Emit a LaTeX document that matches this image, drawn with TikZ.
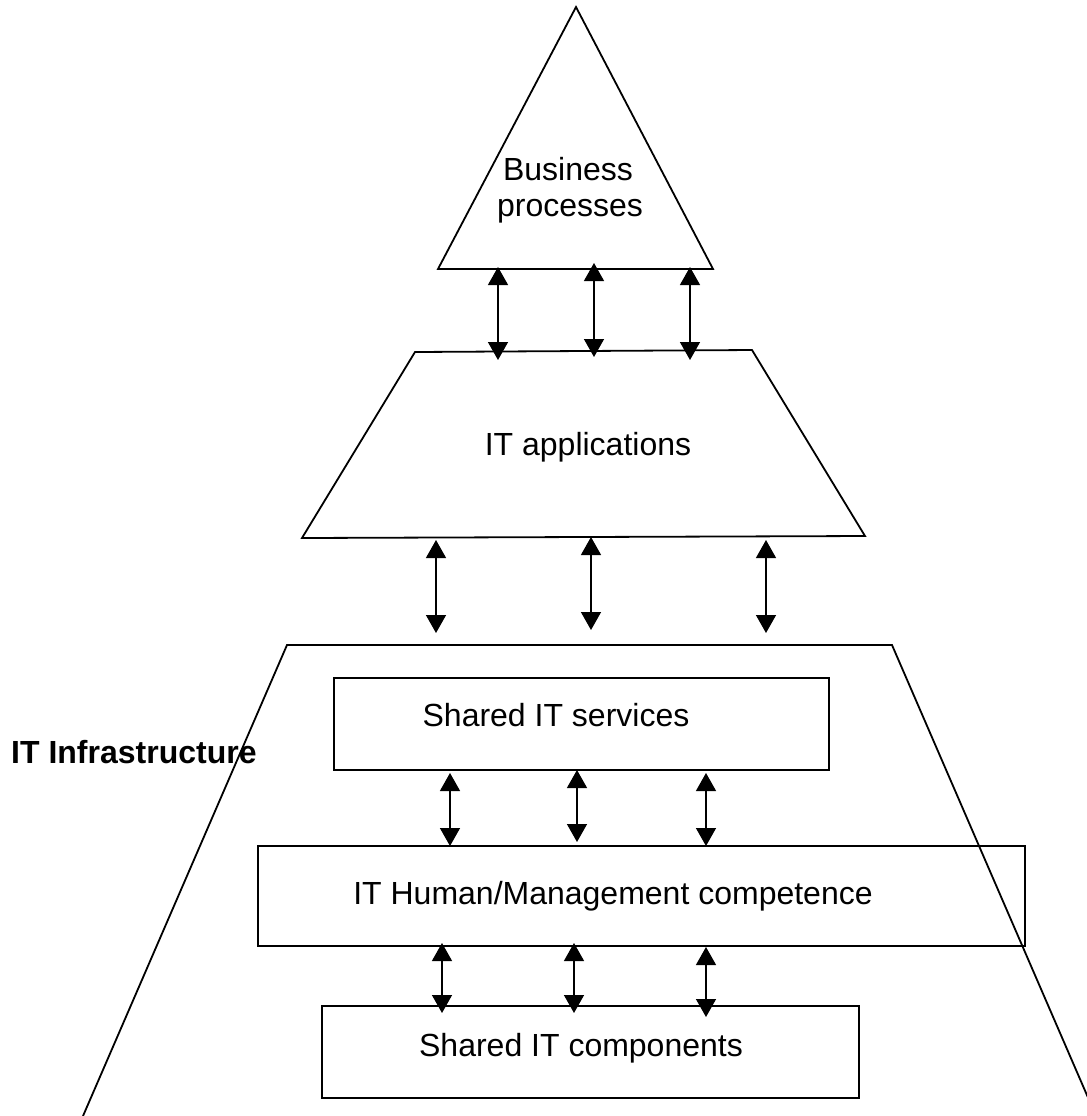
\documentclass[tikz,border=0pt]{standalone}
\usepackage{fontspec}
\setmainfont{Liberation Sans}
\usetikzlibrary{arrows.meta}
\begin{document}
\begin{tikzpicture}[x=0.5pt,y=-0.5pt,
  outline/.style={draw=black, line width=0.9pt, line join=miter},
  box/.style={draw=black, line width=0.9pt, rectangle, inner sep=0pt},
  link/.style={line width=0.7pt,
    {Triangle[width=10pt,length=9pt]}-{Triangle[width=10pt,length=9pt]}},
  lbl/.style={font=\fontsize{16}{18.5}\selectfont, anchor=base, inner sep=0pt},
]
\useasboundingbox (0,0) rectangle (1087,1116);

% IT infrastructure: open trapezoid running off the lower edge
\begin{scope}
  \clip (0,0) rectangle (1087,1116);
  \draw[outline] (83,1116) -- (287,645) -- (892,645) -- (1096,1116);
\end{scope}

% business processes (triangle) and IT applications (trapezoid)
\draw[outline] (576,7) -- (713,269) -- (438,269) -- cycle;
\draw[outline] (415,352) -- (752,350) -- (865,536) -- (302,538) -- cycle;

% infrastructure layers
\node[box, minimum width=247.5pt, minimum height=46pt] (svc) at (581.5,724) {};
\node[box, minimum width=383.5pt, minimum height=50pt] (hum) at (641.5,896) {};
\node[box, minimum width=268.5pt, minimum height=46pt] (cmp) at (590.5,1052) {};

% labels
\node[lbl] (bp1) at (568,180) {Business};
\node[lbl] (bp2) at (570,216) {processes};
\node[lbl] (app) at (588,455) {IT applications};
\node[lbl] (svct) at (556,726) {Shared IT services};
\node[lbl] (humt) at (613,904) {IT Human/Management competence};
\node[lbl] (cmpt) at (581,1056) {Shared IT components};
\node[lbl, anchor=base east, font=\fontsize{16}{18.5}\selectfont\bfseries] (infra) at (257,763) {IT Infrastructure};

% two-way links between the layers
\foreach \n/\x/\ya/\yb in {
    p1/498/267/360, p2/594/263/357, p3/690/267/360,
    q1/436/540/633, q2/591/537/630, q3/766/540/633,
    r1/450/773/846, r2/577/770/842, r3/706/773/846,
    s1/442/943/1013, s2/574/943/1013, s3/706/947/1017} {
  \coordinate (\n t) at (\x,\ya);
  \coordinate (\n b) at (\x,\yb);
  \draw[link] (\n t) -- (\n b);
}
\end{tikzpicture}
\end{document}
